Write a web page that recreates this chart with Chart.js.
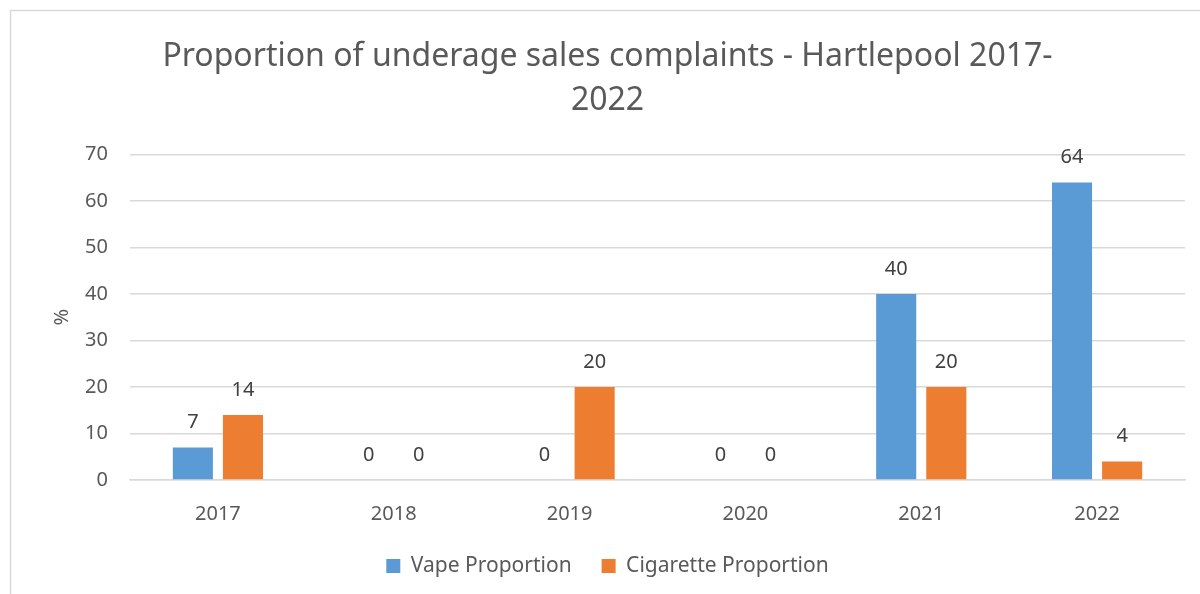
<!DOCTYPE html>
<html>
<head>
<meta charset="utf-8">
<script src="https://cdn.jsdelivr.net/npm/chart.js@4/dist/chart.umd.min.js"></script>
<style>
  html, body { margin: 0; padding: 0; background: #ffffff; }
  #wrap { position: relative; width: 1200px; height: 594px; }
</style>
</head>
<body>
<div id="wrap"><canvas id="c" width="1200" height="594"></canvas></div>
<script>
// Underage sales complaints in Hartlepool, share by product type (%)
const years = ['2017', '2018', '2019', '2020', '2021', '2022'];
const vapeProportion = [7, 0, 0, 0, 40, 64];
const cigaretteProportion = [14, 0, 20, 0, 20, 4];
const yTicks = [0, 10, 20, 30, 40, 50, 60, 70];

const FONT = '"Noto Sans", "Open Sans", sans-serif';
const TEXT = '#595959';

// Thin frame around the chart panel
const framePlugin = {
  id: 'frame',
  beforeDraw(chart) {
    const ctx = chart.ctx;
    ctx.save();
    ctx.strokeStyle = '#d9d9d9';
    ctx.lineWidth = 1.5;
    ctx.strokeRect(10.5, 10.5, 1400, 800);
    ctx.restore();
  }
};

// Value labels above each bar
const valueLabels = {
  id: 'valueLabels',
  afterDatasetsDraw(chart) {
    const ctx = chart.ctx;
    ctx.save();
    ctx.font = '20px ' + FONT;
    ctx.fillStyle = '#404040';
    ctx.textAlign = 'center';
    ctx.textBaseline = 'alphabetic';
    chart.data.datasets.forEach((ds, i) => {
      const meta = chart.getDatasetMeta(i);
      meta.data.forEach((bar, j) => {
        ctx.fillText(String(ds.data[j]), bar.x, bar.y - 19);
      });
    });
    ctx.restore();
  }
};

new Chart(document.getElementById('c'), {
  type: 'bar',
  data: {
    labels: years,
    datasets: [
      { label: 'Vape Proportion', data: vapeProportion, backgroundColor: '#5b9bd5',
        categoryPercentage: 0.57, barPercentage: 0.8 },
      { label: 'Cigarette Proportion', data: cigaretteProportion, backgroundColor: '#ed7d31',
        categoryPercentage: 0.57, barPercentage: 0.8 }
    ]
  },
  options: {
    responsive: false,
    animation: false,
    layout: { padding: { left: 30, right: 15, top: 0, bottom: 7.5 } },
    plugins: {
      title: {
        display: true,
        text: ['Proportion of underage sales complaints - Hartlepool 2017-', '2022'],
        color: TEXT,
        font: { family: FONT, size: 32, weight: 'normal', lineHeight: 1.4 },
        padding: { top: 34, bottom: 31 }
      },
      legend: {
        position: 'bottom',
        labels: {
          color: TEXT,
          font: { family: FONT, size: 21 },
          boxWidth: 14, boxHeight: 14,
          padding: 30
        }
      },
      tooltip: { enabled: false }
    },
    scales: {
      x: {
        grid: { display: false, drawTicks: false },
        border: { color: '#d9d9d9', width: 1.5 },
        ticks: { color: TEXT, font: { family: FONT, size: 20 }, padding: 22 },
        afterFit(s) { s.height = 45.5; }
      },
      y: {
        min: 0, max: 70,
        afterBuildTicks(s) { s.ticks = yTicks.map(v => ({ value: v })); },
        grid: { color: '#d9d9d9', lineWidth: 1.5, drawTicks: false },
        border: { display: false },
        ticks: { color: TEXT, font: { family: FONT, size: 20 }, padding: 22 },
        title: { display: true, text: '%', color: TEXT, font: { family: FONT, size: 20 }, padding: { top: 20, bottom: 0 } },
        afterFit(s) { s.width = 100; }
      }
    }
  },
  plugins: [framePlugin, valueLabels]
});
</script>
</body>
</html>
